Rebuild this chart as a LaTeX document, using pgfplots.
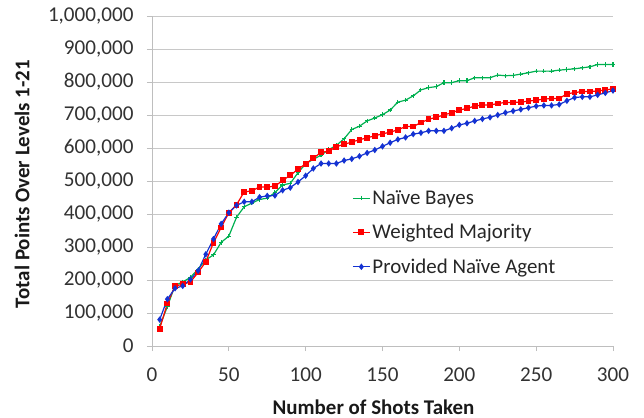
\documentclass[border=0pt]{standalone}
\usepackage{pgfplots}
\pgfplotsset{compat=1.18}
\usepackage{fontspec}
\setmainfont{Carlito}
\definecolor{gA}{RGB}{0,176,80}
\definecolor{rA}{RGB}{255,0,0}
\definecolor{bA}{RGB}{20,50,210}
\definecolor{gridc}{RGB}{200,200,200}
\definecolor{axc}{RGB}{190,190,190}
\definecolor{txt}{RGB}{50,50,50}
\begin{document}
\begin{tikzpicture}
\begin{axis}[
  name=ax,
  scale only axis,
  width=461bp, height=330bp,
  xmin=0, xmax=300, ymin=0, ymax=1000000,
  xtick={0,50,...,300},
  ytick={0,100000,...,1000000},
  scaled y ticks=false,
  /pgf/number format/.cd, fixed, 1000 sep={,}, assume math mode=true,
  /pgfplots/.cd,
  axis x line*=bottom, axis y line*=left,
  axis line style={axc, line width=0.8bp},
  every tick/.style={axc, line width=0.8bp},
  tick align=outside,
  major tick length=5bp,
  ymajorgrids,
  grid style={gridc, line width=0.9bp},
  tick label style={font=\fontsize{21.2}{25}\selectfont, text=txt},
  yticklabel style={xshift=-10bp},
  xticklabel style={yshift=-13bp},
  xlabel={\textbf{Number of Shots Taken}},
  ylabel={\textbf{Total Points Over Levels 1-21}},
  label style={font=\fontsize{21}{25}\selectfont, text=black!90},
  xlabel style={at={(axis description cs:0.5,0)}, anchor=center, yshift=-61bp, xshift=-9bp},
  ylabel style={at={(axis description cs:0,0.5)}, anchor=center, yshift=130bp, xshift=-3bp},
  legend style={at={(0.434,0.478)}, anchor=north west, draw=none, fill=none, inner sep=0pt,
    font=\fontsize{21}{25}\selectfont, text=black!85, row sep=14.5bp},
  legend cell align=left,
  legend image code/.code={\draw[#1] (0bp,0bp) -- (17bp,0bp); \draw[#1, only marks] plot coordinates {(8.5bp,0bp)};},
  clip=false,
]
\addplot[gA, line width=1.2bp, mark=+, mark size=2.2bp, mark options={line width=1.1bp}] coordinates {
(5,60000)(10,119000)(15,184000)(20,194000)(25,208000)(30,233000)(35,261000)(40,276000)(45,314000)(50,333000)
(55,390000)(60,422000)(65,433000)(70,444000)(75,448000)(80,465000)(85,488000)(90,493000)(95,525000)(100,552000)
(105,566000)(110,578000)(115,595000)(120,608000)(125,628000)(130,656000)(135,666000)(140,682000)(145,691000)(150,701000)
(155,715000)(160,739000)(165,745000)(170,758000)(175,776000)(180,783000)(185,786000)(190,798000)(195,798000)(200,804000)
(205,804000)(210,813000)(215,813000)(220,813000)(225,821000)(230,819000)(235,820000)(240,824000)(245,828000)(250,833000)
(255,833000)(260,833000)(265,836000)(270,838000)(275,840000)(280,843000)(285,846000)(290,853000)(295,853000)(300,853000)
};
\addlegendentry{Naïve Bayes}
\addplot[rA, line width=1.2bp, mark=square*, mark size=2.3bp] coordinates {
(5,52000)(10,129000)(15,182000)(20,187000)(25,194000)(30,223000)(35,255000)(40,313000)(45,359000)(50,404000)
(55,428000)(60,467000)(65,470000)(70,482000)(75,482000)(80,484000)(85,502000)(90,517000)(95,536000)(100,552000)
(105,569000)(110,587000)(115,590000)(120,604000)(125,611000)(130,618000)(135,625000)(140,631000)(145,637000)(150,643000)
(155,648000)(160,655000)(165,665000)(170,665000)(175,677000)(180,687000)(185,693000)(190,700000)(195,707000)(200,715000)
(205,720000)(210,727000)(215,730000)(220,730000)(225,735000)(230,738000)(235,738000)(240,739000)(245,742000)(250,745000)
(255,748000)(260,750000)(265,750000)(270,764000)(275,768000)(280,771000)(285,771000)(290,773000)(295,776000)(300,779000)
};
\addlegendentry{Weighted Majority}
\addplot[bA, line width=1.2bp, mark=diamond*, mark size=2.3bp] coordinates {
(5,80000)(10,142000)(15,175000)(20,182000)(25,202000)(30,228000)(35,278000)(40,324000)(45,370000)(50,404000)
(55,426000)(60,437000)(65,437000)(70,451000)(75,455000)(80,456000)(85,472000)(90,480000)(95,497000)(100,516000)
(105,538000)(110,553000)(115,553000)(120,553000)(125,562000)(130,567000)(135,575000)(140,585000)(145,594000)(150,605000)
(155,616000)(160,626000)(165,632000)(170,642000)(175,646000)(180,652000)(185,652000)(190,652000)(195,660000)(200,670000)
(205,675000)(210,682000)(215,688000)(220,693000)(225,700000)(230,707000)(235,712000)(240,717000)(245,722000)(250,727000)
(255,729000)(260,729000)(265,732000)(270,743000)(275,753000)(280,755000)(285,755000)(290,761000)(295,767000)(300,774000)
};
\addlegendentry{Provided Naïve Agent}
\end{axis}
\pgfresetboundingbox
\path[use as bounding box] ([xshift=-152bp,yshift=-72bp]ax.south west) rectangle ([xshift=31bp,yshift=16bp]ax.north east);
\end{tikzpicture}
\end{document}
